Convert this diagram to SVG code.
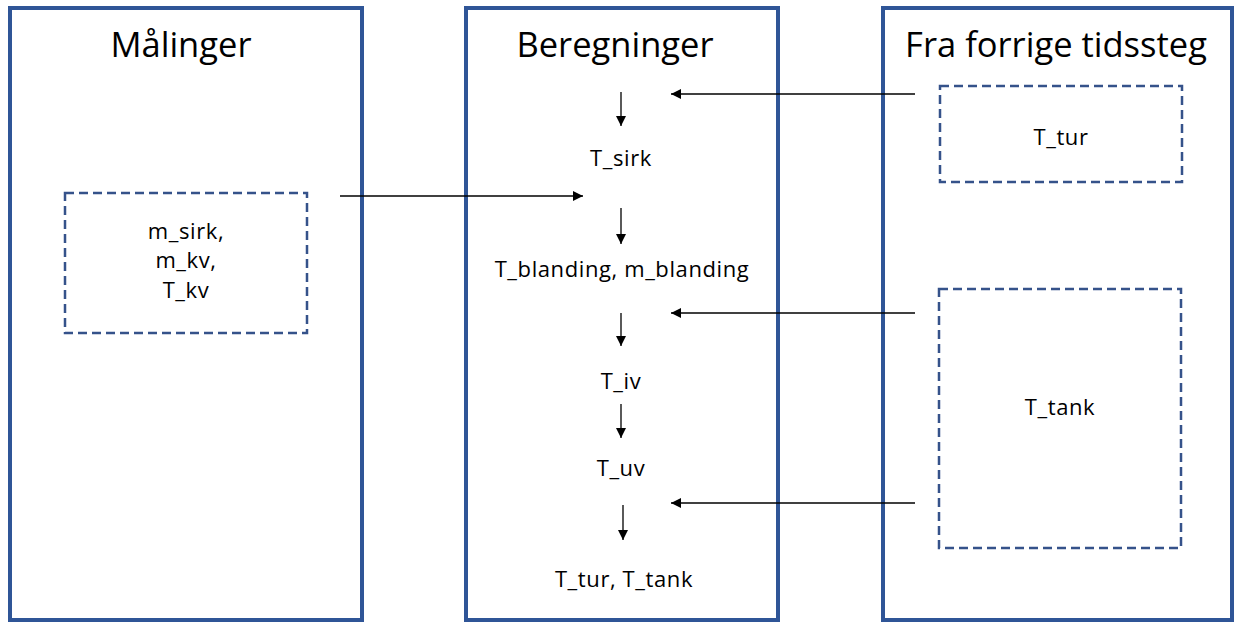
<svg xmlns="http://www.w3.org/2000/svg" width="1239" height="624" viewBox="0 0 1239 624">
<style>
.panel{fill:#fff;stroke:#2F5597;stroke-width:4}
.dash{fill:none;stroke:#35528A;stroke-width:2.5;stroke-dasharray:9 5}
.h{font-family:"Open Sans","Liberation Sans",sans-serif;font-size:34.5px;fill:#000;text-anchor:middle}
.t{font-family:"Open Sans","Liberation Sans",sans-serif;font-size:22px;letter-spacing:0.6px;fill:#000;text-anchor:middle}
.c{stroke:#000;stroke-width:1.3;fill:none;marker-end:url(#ah)}
</style>
<defs>
<marker id="ah" viewBox="0 0 10 10" refX="10" refY="5" markerWidth="10" markerHeight="10" markerUnits="userSpaceOnUse" orient="auto">
<path d="M0,0 L10,5 L0,10 z" fill="#000"/>
</marker>
</defs>
<rect width="1239" height="624" fill="#fff"/>
<g id="maalinger">
<rect class="panel" x="10" y="8" width="352" height="612"/>
<text class="h" x="181" y="57">Målinger</text>
<rect class="dash" x="65" y="193" width="242" height="140"/>
<text class="t" x="186" y="239">m_sirk,</text>
<text class="t" x="186" y="268">m_kv,</text>
<text class="t" x="186" y="298">T_kv</text>
</g>
<g id="beregninger">
<rect class="panel" x="466" y="8" width="312" height="612"/>
<text class="h" x="615" y="57">Beregninger</text>
<text class="t" x="621" y="166">T_sirk</text>
<text class="t" x="622" y="277">T_blanding, m_blanding</text>
<text class="t" x="621" y="389">T_iv</text>
<text class="t" x="621" y="476">T_uv</text>
<text class="t" x="624" y="587">T_tur, T_tank</text>
</g>
<g id="forrige">
<rect class="panel" x="883" y="8" width="349" height="612"/>
<text class="h" x="1056" y="57">Fra forrige tidssteg</text>
<rect class="dash" x="940" y="86" width="242" height="96"/>
<text class="t" x="1061" y="145">T_tur</text>
<rect class="dash" x="939" y="289" width="242" height="259"/>
<text class="t" x="1060" y="415">T_tank</text>
</g>
<g id="connectors">
<line class="c" x1="915" y1="94" x2="671" y2="94"/>
<line class="c" x1="340" y1="196" x2="583" y2="196"/>
<line class="c" x1="915" y1="313" x2="671" y2="313"/>
<line class="c" x1="915" y1="503" x2="671" y2="503"/>
<line class="c" x1="621" y1="92" x2="621" y2="126"/>
<line class="c" x1="621" y1="208" x2="621" y2="244"/>
<line class="c" x1="621" y1="313" x2="621" y2="346"/>
<line class="c" x1="621" y1="404" x2="621" y2="438"/>
<line class="c" x1="623" y1="505" x2="623" y2="540"/>
</g>
</svg>
